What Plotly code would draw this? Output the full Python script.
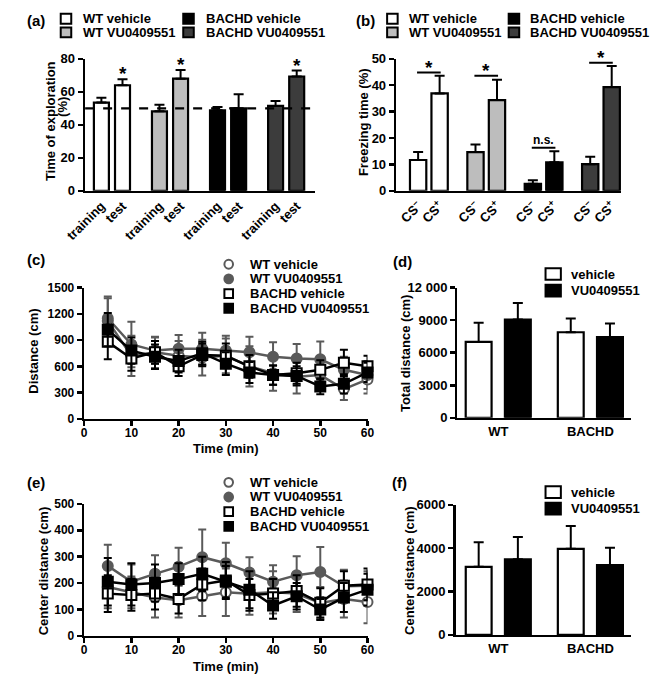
import plotly.graph_objects as go

W, H = 654, 683
def px(x): return x / W
def py(y): return 1 - y / H

FONT = "Liberation Sans, Arial, Helvetica, sans-serif"

# ---------------- DATA ----------------
groups = ["WT vehicle", "WT VU0409551", "BACHD vehicle", "BACHD VU0409551"]
group_fill = ["#ffffff", "#bdbdbd", "#000000", "#3c3c3c"]

# (a) novel object recognition: time of exploration (%)
nor_phases = ["training", "test"]
nor_wt_veh = [53.5, 64.0]
nor_wt_veh_err = [3.0, 3.6]
nor_wt_vu = [48.2, 68.0]
nor_wt_vu_err = [4.0, 5.3]
nor_bachd_veh = [48.8, 50.0]
nor_bachd_veh_err = [2.0, 8.5]
nor_bachd_vu = [51.5, 69.3]
nor_bachd_vu_err = [3.0, 3.6]
nor_star = [False, True, False, True, False, False, False, True]
nor_chance = 50

# (b) fear conditioning: freezing time (%)
fc_cues = ["CS<sup>–</sup>", "CS<sup>+</sup>"]
fc_wt_veh = [11.7, 36.9]
fc_wt_veh_err = [3.0, 6.7]
fc_wt_vu = [14.7, 34.4]
fc_wt_vu_err = [2.9, 7.7]
fc_bachd_veh = [2.7, 10.8]
fc_bachd_veh_err = [1.3, 4.2]
fc_bachd_vu = [10.1, 39.3]
fc_bachd_vu_err = [2.8, 8.0]
fc_sig_label = ["*", "*", "n.s.", "*"]
fc_sig_y = [44.8, 43.6, 16.3, 48.5]

# (c) distance per 5-min bin (cm)
time_min = [5, 10, 15, 20, 25, 30, 35, 40, 45, 50, 55, 60]
dist_wt_veh = [1120, 720, 760, 720, 700, 720, 600, 520, 480, 500, 340, 450]
dist_wt_veh_err = [260, 230, 180, 170, 205, 200, 230, 200, 190, 160, 125, 160]
dist_wt_vu = [1150, 850, 780, 800, 800, 780, 760, 710, 690, 680, 560, 500]
dist_wt_vu_err = [250, 260, 150, 160, 185, 170, 180, 165, 165, 205, 150, 160]
dist_bachd_veh = [880, 690, 760, 600, 730, 720, 600, 500, 520, 560, 640, 600]
dist_bachd_veh_err = [200, 140, 130, 110, 130, 140, 130, 110, 120, 110, 150, 120]
dist_bachd_vu = [1020, 780, 710, 660, 750, 630, 530, 500, 490, 370, 400, 530]
dist_bachd_vu_err = [190, 150, 140, 130, 130, 130, 120, 110, 110, 90, 110, 110]

# (d) total distance (cm)
genotypes = ["WT", "BACHD"]
treatments = ["vehicle", "VU0409551"]
total_vehicle = [7000, 7890]
total_vehicle_err = [1760, 1260]
total_vu = [9060, 7440]
total_vu_err = [1530, 1260]

# (e) center distance per bin (cm)
cdist_wt_veh = [185, 165, 145, 135, 150, 165, 160, 165, 160, 125, 140, 128]
cdist_wt_veh_err = [80, 60, 75, 65, 75, 90, 80, 80, 70, 60, 70, 80]
cdist_wt_vu = [265, 205, 235, 262, 298, 275, 240, 205, 230, 242, 188, 190]
cdist_wt_vu_err = [80, 65, 70, 72, 105, 78, 58, 62, 72, 95, 62, 55]
cdist_bachd_veh = [160, 155, 160, 140, 195, 210, 155, 160, 170, 125, 190, 195]
cdist_bachd_veh_err = [70, 60, 60, 55, 60, 70, 60, 55, 60, 55, 55, 60]
cdist_bachd_vu = [205, 195, 200, 215, 235, 205, 175, 115, 150, 100, 145, 175]
cdist_bachd_vu_err = [90, 80, 70, 60, 65, 60, 70, 50, 50, 40, 55, 60]

# (f) total center distance (cm)
center_vehicle = [3140, 3970]
center_vehicle_err = [1130, 1050]
center_vu = [3490, 3220]
center_vu_err = [1020, 800]

# ---------------- FIGURE ----------------
fig = go.Figure()
annotations = []
shapes = []

def font(size=13, color="black"):
    return dict(family=FONT, size=size, color=color, weight="bold")

def axis(**kw):
    d = dict(showline=True, linecolor="black", linewidth=2.5, showgrid=False, zeroline=False,
             ticks="outside", tickwidth=2.5, ticklen=5, tickcolor="black",
             tickfont=font(13), fixedrange=True)
    d.update(kw)
    return d

def up_err(vals):
    return dict(type="data", array=vals, arrayminus=[0] * len(vals), symmetric=False,
                color="black", thickness=2, width=5)

# ---- (a) ----
pair_gap_a = 2.75
nor_sets = [(nor_wt_veh, nor_wt_veh_err), (nor_wt_vu, nor_wt_vu_err),
            (nor_bachd_veh, nor_bachd_veh_err), (nor_bachd_vu, nor_bachd_vu_err)]
a_pos, a_text = [], []
bar_i = 0
for g, (vals, errs) in enumerate(nor_sets):
    xs = [g * pair_gap_a + k for k in range(len(vals))]
    a_pos += xs
    a_text += nor_phases
    fig.add_trace(go.Bar(x=xs, y=vals, width=0.71, xaxis="x", yaxis="y", showlegend=False,
                         marker=dict(color=group_fill[g], line=dict(color="black", width=2.2)),
                         error_y=up_err(errs)))
    for k in range(len(vals)):
        if nor_star[bar_i]:
            annotations.append(dict(x=xs[k], y=vals[k] + errs[k], xref="x", yref="y", text="*",
                                    showarrow=False, yanchor="bottom", yshift=-7, font=font(19)))
        bar_i += 1
shapes.append(dict(type="line", xref="x domain", yref="y", x0=0, x1=1, y0=nor_chance, y1=nor_chance,
                   line=dict(color="black", width=2.2, dash="dash"), layer="above"))

# ---- (b) ----
pair_gap_b = 2.67
fc_sets = [(fc_wt_veh, fc_wt_veh_err), (fc_wt_vu, fc_wt_vu_err),
           (fc_bachd_veh, fc_bachd_veh_err), (fc_bachd_vu, fc_bachd_vu_err)]
b_pos, b_text = [], []
for g, (vals, errs) in enumerate(fc_sets):
    xs = [g * pair_gap_b + k for k in range(len(vals))]
    b_pos += xs
    b_text += fc_cues
    fig.add_trace(go.Bar(x=xs, y=vals, width=0.76, xaxis="x2", yaxis="y2", showlegend=False,
                         marker=dict(color=group_fill[g], line=dict(color="black", width=2.2)),
                         error_y=up_err(errs)))
    shapes.append(dict(type="line", xref="x2", yref="y2", x0=xs[0] - 0.05, x1=xs[1] + 0.05,
                       y0=fc_sig_y[g], y1=fc_sig_y[g], line=dict(color="black", width=2)))
    lab = fc_sig_label[g]
    annotations.append(dict(x=(xs[0] + xs[1]) / 2, y=fc_sig_y[g], xref="x2", yref="y2", text=lab,
                            showarrow=False, yanchor="bottom",
                            yshift=-7 if lab == "*" else -1,
                            font=font(19 if lab == "*" else 12)))

# ---- (c) / (e) line charts ----
line_styles = [
    dict(name="WT vehicle", color="#5a5a5a", symbol="circle-open", fill="white"),
    dict(name="WT VU0409551", color="#5a5a5a", symbol="circle", fill="#5a5a5a"),
    dict(name="BACHD vehicle", color="#000000", symbol="square", fill="white"),
    dict(name="BACHD VU0409551", color="#000000", symbol="square", fill="#000000"),
]
c_sets = [(dist_wt_veh, dist_wt_veh_err), (dist_wt_vu, dist_wt_vu_err),
          (dist_bachd_veh, dist_bachd_veh_err), (dist_bachd_vu, dist_bachd_vu_err)]
e_sets = [(cdist_wt_veh, cdist_wt_veh_err), (cdist_wt_vu, cdist_wt_vu_err),
          (cdist_bachd_veh, cdist_bachd_veh_err), (cdist_bachd_vu, cdist_bachd_vu_err)]
for sets, xa, ya in [(c_sets, "x3", "y3"), (e_sets, "x5", "y5")]:
    for st, (vals, errs) in zip(line_styles, sets):
        if st["symbol"] == "circle-open":
            mk = dict(symbol="circle", size=10, color="white", line=dict(color=st["color"], width=2))
        else:
            mk = dict(symbol=st["symbol"], size=10, color=st["fill"], line=dict(color=st["color"], width=2))
        fig.add_trace(go.Scatter(x=time_min, y=vals, mode="lines+markers", xaxis=xa, yaxis=ya,
                                 showlegend=False, cliponaxis=False,
                                 line=dict(color=st["color"], width=2.5), marker=mk,
                                 error_y=dict(type="data", array=errs, color=st["color"],
                                              thickness=2, width=4)))

# ---- (d) / (f) grouped bars ----
geno_gap = 2.35
for vals_v, err_v, vals_u, err_u, xa, ya in [
        (total_vehicle, total_vehicle_err, total_vu, total_vu_err, "x4", "y4"),
        (center_vehicle, center_vehicle_err, center_vu, center_vu_err, "x6", "y6")]:
    for t, (vals, errs, col) in enumerate([(vals_v, err_v, "#ffffff"), (vals_u, err_u, "#000000")]):
        xs = [g * geno_gap + t for g in range(len(genotypes))]
        fig.add_trace(go.Bar(x=xs, y=vals, width=0.66, xaxis=xa, yaxis=ya, showlegend=False,
                             marker=dict(color=col, line=dict(color="black", width=2.2)),
                             error_y=up_err(errs)))
geno_pos = [g * geno_gap + 0.5 for g in range(len(genotypes))]

# ---------------- LEGENDS (drawn as keys + text) ----------------
def key_square(cx, cy, fill, w=11, h=11, lw=2, line="black"):
    shapes.append(dict(type="rect", xref="paper", yref="paper",
                       x0=px(cx - w / 2), x1=px(cx + w / 2), y0=py(cy + h / 2), y1=py(cy - h / 2),
                       fillcolor=fill, line=dict(color=line, width=lw)))

def key_circle(cx, cy, fill, line, r=4.5, lw=2):
    shapes.append(dict(type="circle", xref="paper", yref="paper",
                       x0=px(cx - r), x1=px(cx + r), y0=py(cy + r), y1=py(cy - r),
                       fillcolor=fill, line=dict(color=line, width=lw)))

def key_text(x, y, text, size=13):
    annotations.append(dict(x=px(x), y=py(y), xref="paper", yref="paper", text=text,
                            showarrow=False, xanchor="left", yanchor="middle", font=font(size)))

# (a) & (b) legends: 2x2
for kx, tx, kx2, tx2 in [(47, 63, 175, 191), (388, 403, 515, 530)]:
    for i, (gx, tgx) in enumerate([(kx, tx), (kx, tx), (kx2, tx2), (kx2, tx2)]):
        row = i % 2
        cy = 12 + row * 14
        key_square(gx, cy, group_fill[i], w=11, h=10)
        key_text(tgx, cy, groups[i])

# (c) & (e) legends
for y0 in [263, 486]:
    for i, st in enumerate(line_styles):
        cy = y0 + i * 15
        if st["symbol"] in ("circle", "circle-open"):
            key_circle(217, cy, "white" if st["symbol"] == "circle-open" else st["fill"], st["color"])
        else:
            key_square(217, cy, st["fill"], w=9, h=9, lw=2, line=st["color"])
        key_text(237, cy, st["name"])

# (d) & (f) legends
for y0 in [273, 496]:
    for t, col in enumerate(["#ffffff", "#000000"]):
        cy = y0 + t * 17
        key_square(556, cy, col, w=16, h=12)
        key_text(572, cy, treatments[t])

# ---------------- PANEL LABELS & AXIS TITLES ----------------
for lab, x, y in [("(a)", 4, 14), ("(b)", 348, 14), ("(c)", 4, 258), ("(d)", 387, 260),
                  ("(e)", 4, 486), ("(f)", 386, 486)]:
    annotations.append(dict(x=px(x), y=py(y), xref="paper", yref="paper", text=lab, showarrow=False,
                            xanchor="left", yanchor="middle", font=font(15)))

for txt, x, y in [("Time of exploration", 31, 117), ("(%)", 44, 102), ("Freezing time (%)", 358, 118),
                  ("Distance (cm)", 13, 352), ("Total distance (cm)", 401, 354),
                  ("Center distance (cm)", 23, 577), ("Center distance (cm)", 406, 576)]:
    annotations.append(dict(x=px(x), y=py(y), xref="paper", yref="paper", text=txt, showarrow=False,
                            textangle=-90, xanchor="center", yanchor="middle", font=font(13)))

for x, y in [(214, 451), (214, 674)]:
    annotations.append(dict(x=px(x), y=py(y), xref="paper", yref="paper", text="Time (min)",
                            showarrow=False, xanchor="center", yanchor="middle", font=font(13)))

# ---------------- LAYOUT ----------------
fig.update_layout(
    width=W, height=H, margin=dict(l=0, r=0, t=0, b=0),
    paper_bgcolor="white", plot_bgcolor="white", barmode="overlay",
    font=dict(family=FONT, color="black"),
    showlegend=False,
    xaxis=axis(domain=[px(67), px(307)], range=[-0.77, 10.11], tickvals=a_pos, ticktext=a_text,
               tickangle=-45, ticks="", anchor="y"),
    yaxis=axis(domain=[py(188), py(53)], range=[0, 80], tickvals=[0, 20, 40, 60, 80], anchor="x",
               tickfont=font(13)),
    xaxis2=axis(domain=[px(392), px(627)], range=[-1.02, 9.45], tickvals=b_pos, ticktext=b_text,
                tickangle=-45, ticks="", anchor="y2"),
    yaxis2=axis(domain=[py(188), py(53)], range=[0, 50], tickvals=[0, 10, 20, 30, 40, 50], anchor="x2",
                tickfont=font(13)),
    xaxis3=axis(domain=[px(66), px(362)], range=[0, 60], tickvals=[0, 10, 20, 30, 40, 50, 60],
                anchor="y3", tickfont=font(12), ticklabelstandoff=-4),
    yaxis3=axis(domain=[py(421), py(287)], range=[0, 1500], tickvals=[0, 300, 600, 900, 1200, 1500],
                anchor="x3", tickfont=font(12)),
    xaxis4=axis(domain=[px(456), px(637)], range=[-0.54, 3.88], tickvals=geno_pos, ticktext=genotypes,
                ticks="", anchor="y4"),
    yaxis4=axis(domain=[py(420), py(287)], range=[0, 12000], tickvals=[0, 3000, 6000, 9000, 12000],
                ticktext=["0", "3000", "6000", "9000", "12 000"], anchor="x4", tickfont=font(13)),
    xaxis5=axis(domain=[px(66), px(362)], range=[0, 60], tickvals=[0, 10, 20, 30, 40, 50, 60],
                anchor="y5", tickfont=font(12), ticklabelstandoff=-4),
    yaxis5=axis(domain=[py(643), py(508)], range=[0, 500], tickvals=[0, 100, 200, 300, 400, 500],
                anchor="x5", tickfont=font(12)),
    xaxis6=axis(domain=[px(454), px(637)], range=[-0.59, 3.88], tickvals=geno_pos, ticktext=genotypes,
                ticks="", anchor="y6"),
    yaxis6=axis(domain=[py(642), py(509)], range=[0, 6000], tickvals=[0, 2000, 4000, 6000],
                anchor="x6", tickfont=font(13)),
    annotations=annotations,
    shapes=shapes,
)

# remove the default page margin so the figure sits at the window's top-left corner
fig.write_html("out.html", config={"displayModeBar": False, "staticPlot": True},
               post_script="document.body.style.margin='0';document.body.style.overflow='hidden';")
